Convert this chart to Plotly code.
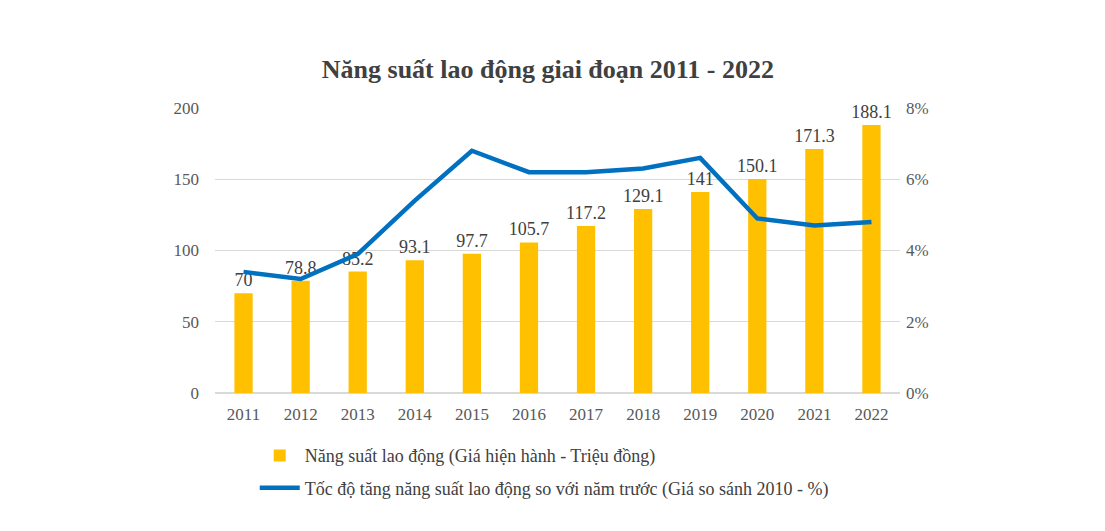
import plotly.graph_objects as go

years = ["2011", "2012", "2013", "2014", "2015", "2016", "2017", "2018", "2019", "2020", "2021", "2022"]
productivity = [70, 78.8, 85.2, 93.1, 97.7, 105.7, 117.2, 129.1, 141, 150.1, 171.3, 188.1]
growth_pct = [3.4, 3.2, 3.9, 5.4, 6.8, 6.2, 6.2, 6.3, 6.6, 4.9, 4.7, 4.8]

bar_name = "Năng suất lao động (Giá hiện hành - Triệu đồng)"
line_name = "Tốc độ tăng năng suất lao động so với năm trước (Giá so sánh 2010 - %)"
title = "Năng suất lao động giai đoạn 2011 - 2022"

FONT = "Liberation Serif, Times New Roman, serif"

fig = go.Figure()
fig.add_trace(go.Bar(
    x=years, y=productivity, name=bar_name,
    marker=dict(color="#FFC000", line=dict(width=0)),
    width=0.32,
    text=[f"{v:g}" for v in productivity], textposition="outside",
    textfont=dict(family=FONT, size=18, color="#404040"),
    constraintext="none",
    cliponaxis=False, legendgroup="a",
))
fig.add_trace(go.Scatter(
    x=years, y=[g / 100 for g in growth_pct], name=line_name, yaxis="y2",
    mode="lines", line=dict(color="#0070C0", width=4.5),
    legendgroup="b",
))

fig.update_layout(
    width=1105, height=531,
    margin=dict(l=207, r=213, t=100, b=146),
    paper_bgcolor="white", plot_bgcolor="white",
    title=dict(text=f"<b>{title}</b>", x=0.486, xref="paper", xanchor="center", y=0.885, yanchor="middle",
               font=dict(family=FONT, size=26, color="#404040")),
    font=dict(family=FONT, color="#595959"),
    xaxis=dict(showgrid=False, showline=False, ticks="", tickfont=dict(size=17, color="#595959"),
               ticklabelstandoff=9),
    yaxis=dict(range=[0, 200], dtick=50, showgrid=True, gridcolor="#D9D9D9", gridwidth=1,
               zeroline=True, zerolinecolor="#D9D9D9", tickfont=dict(size=17, color="#595959"),
               ticklabelstandoff=15),
    yaxis2=dict(range=[0, 0.08], dtick=0.02, tickformat=".0%", overlaying="y", side="right",
                showgrid=False, zeroline=False, tickfont=dict(size=17, color="#595959"),
                ticklabelstandoff=5),
    legend=dict(orientation="v", x=0.058, xanchor="left", y=-0.155, yanchor="top",
                font=dict(family=FONT, size=18, color="#404040"),
                traceorder="grouped", tracegroupgap=6, itemwidth=40),
    showlegend=True,
)

fig.write_html("out.html")
